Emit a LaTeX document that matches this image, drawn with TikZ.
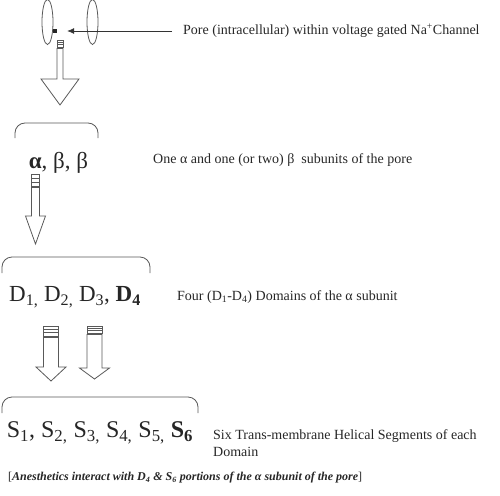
\documentclass[tikz,border=0pt]{standalone}
\usepackage{fontspec}
\setmainfont{Liberation Serif}
\usetikzlibrary{arrows.meta}
\tikzset{
  arrowline/.style={draw=black!65, line width=0.8pt},
  bracket/.style={draw=black!65, line width=0.8pt, rounded corners=10pt},
  label/.style={anchor=west, inner sep=0pt, text=black!85, font=\fontsize{14}{17}\selectfont},
  row/.style={inner sep=0pt, text=black!85},
  pics/blockarrow/.style n args={5}{code={
    \draw[arrowline] (-#1,0) rectangle (#1,#2);
    \draw[arrowline] (-#1,#2/3) -- (#1,#2/3) (-#1,2*#2/3) -- (#1,2*#2/3);
    \draw[arrowline] (-#1,#2+1.5) -- (-#1,#3) -- (-#4,#3) -- (0,#5)
      -- (#4,#3) -- (#1,#3) -- (#1,#2+1.5) -- cycle;
  }}
}
\begin{document}
\begin{tikzpicture}[x=1pt, y=-1pt]
  \useasboundingbox (0,0) rectangle (500,495);
  % the channel and its pore
  \draw[arrowline] (47.5,22) ellipse (5.5 and 22.5);
  \draw[arrowline] (92.5,22) ellipse (5.5 and 22.5);
  \node[fill=black!85, minimum size=4pt, inner sep=0pt] (pore) at (55,31) {};
  \node[label] (porelabel) at (183,31) {Pore (intracellular) within voltage gated Na\textsuperscript{+}Channel};
  \draw[black!80, line width=0.7pt, -{Latex[length=7pt,width=6pt]}, shorten <=11pt, shorten >=10pt]
    (porelabel.west) -- (pore.east);
  \pic at (60,40) {blockarrow={3}{7}{39}{19}{65}};
  % subunits
  \draw[bracket] (15,138) |- (56,123) -| (98,138);
  \node[row, font=\fontsize{23}{26}\selectfont] (subunits) at (58.5,163) {\textbf{α}, β, β};
  \node[label] (subunitlabel) at (153,160) {One α and one (or two) β\ \ subunits of the pore};
  \pic at (35.5,174) {blockarrow={4}{12}{42}{10}{70}};
  % domains
  \draw[bracket] (2,273) |- (76,257) -| (150,273);
  \node[row, font=\fontsize{23}{26}\selectfont] (domains) at (75,297)
    {D\textsubscript{1,} D\textsubscript{2,} D\textsubscript{3}, \textbf{D}\textsubscript{\textbf{4}}};
  \node[label] (domainlabel) at (177,297) {Four (D\textsubscript{1}-D\textsubscript{4}) Domains of the α subunit};
  \pic at (51,326) {blockarrow={7.5}{10}{41}{15}{55}};
  \pic at (94.5,326) {blockarrow={7.5}{7}{42}{15}{53}};
  % segments
  \draw[bracket] (2,413) |- (100,397) -| (198,413);
  \node[row, font=\fontsize{24}{27}\selectfont] (segments) at (100,433)
    {S\textsubscript{1}, S\textsubscript{2,} S\textsubscript{3,} S\textsubscript{4,} S\textsubscript{5,} \textbf{S}\textsubscript{\textbf{6}}};
  \node[label, align=left] (segmentlabel) at (213,443) {Six Trans-membrane Helical Segments of each\\ Domain};
  % note
  \node[label, font=\fontsize{12}{14}\selectfont] (note) at (8,478)
    {[\textbf{\textit{Anesthetics interact with D\textsubscript{4} \& S\textsubscript{6} portions of the α subunit of the pore}}]};
\end{tikzpicture}
\end{document}
